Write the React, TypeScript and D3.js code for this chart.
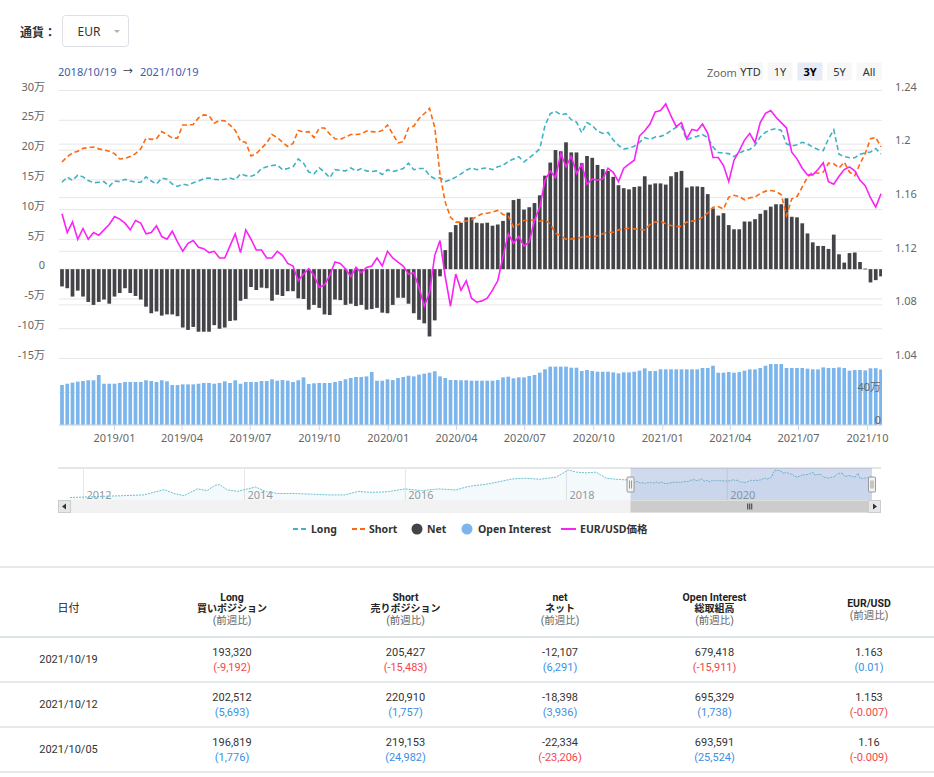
import * as d3 from "d3";

const FONT = "'Noto Sans', 'Noto Sans CJK JP', sans-serif";
const TABLE_FONT = "Roboto, 'Noto Sans CJK JP', sans-serif";

// weekly COT report dates (Tuesdays)
const FIRST_REPORT = new Date(2018, 9, 23);
const RANGE_START = new Date(2018, 9, 19);
const RANGE_END = new Date(2021, 9, 19);

// positions in 万 (10,000 contracts)
const longPos = [
  14.6, 15.45, 14.9, 15.8, 15.5, 14.9, 14.5, 14.6, 14.7, 13.9, 14.8, 14.7, 15.1, 14.8, 14.6, 14.6, 15.5, 14.8, 14.3, 15.3,
  15.1, 14.3, 13.9, 14.3, 14.1, 14.5, 14.8, 15.2, 15.3, 15.1, 15.0, 15.1, 15.3, 15.0, 16.0, 15.7, 15.6, 15.9, 16.9,
  17.2, 17.4, 17.5, 16.7, 16.9, 17.2, 18.5, 17.8, 16.3, 16.0, 17.0, 16.3, 15.35, 16.7, 16.6, 16.5, 17.0, 16.5, 16.9, 16.5,
  16.4, 16.5, 15.9, 16.7, 16.4, 16.6, 16.9, 17.8, 16.7, 16.9, 16.9, 15.7, 15.2, 15.35, 14.7, 15.0, 15.45, 16.0, 16.6,
  17.0, 16.7, 16.9, 17.0, 16.7, 17.2, 17.4, 18.1, 18.5, 18.9, 18.0, 18.7, 19.4, 20.2, 24.1, 26.1, 26.5, 25.9, 26.1, 25.1,
  24.7, 22.9, 24.6, 24.1, 23.2, 22.8, 22.95, 21.7, 20.8, 20.2, 20.3, 20.65, 21.3, 22.1, 21.8, 22.2, 22.3, 22.6, 23.3,
  23.8, 23.96, 21.7, 22.1, 22.3, 22.6, 22.1, 20.5, 19.6, 19.5, 19.4, 18.9, 19.5, 19.9, 20.1, 20.8, 22.2, 23.0, 23.4, 23.6,
  23.3, 21.05, 20.7, 20.9, 21.3, 21.05, 20.5, 20.1, 19.9, 21.9, 23.4, 19.3, 18.9, 18.7, 18.7, 19.3, 19.5, 19.68, 20.25, 19.33,
];

const shortPos = [
  18.0, 18.9, 19.5, 19.8, 20.3, 20.4, 20.5, 20.2, 20.0, 19.8, 19.4, 18.5, 18.6, 18.9, 19.4, 20.2, 22.0, 21.8, 21.9, 23.1,
  22.6, 22.0, 22.0, 24.2, 24.2, 24.3, 25.4, 25.9, 25.8, 24.5, 25.0, 24.9, 24.2, 23.3, 21.5, 21.3, 19.0, 19.4, 20.3,
  21.2, 22.6, 22.1, 21.3, 20.6, 21.1, 23.3, 23.0, 23.1, 22.1, 23.7, 23.7, 22.7, 21.9, 21.8, 22.2, 22.6, 22.6, 22.7, 23.2,
  23.1, 23.0, 23.3, 24.2, 22.7, 21.2, 21.4, 23.7, 24.0, 25.3, 26.1, 27.0, 23.8, 15.9, 11.25, 8.7, 7.9, 7.9, 8.1,
  8.3, 8.85, 9.3, 9.4, 9.57, 9.86, 9.18, 8.9, 7.05, 7.5, 8.18, 8.18, 8.29, 8.06, 8.29, 7.6, 6.04, 5.6, 5.04, 5.09,
  5.2, 5.37, 5.49, 5.37, 5.6, 5.94, 6.21, 6.21, 6.6, 6.77, 6.88, 6.77, 6.66, 6.6, 7.5, 7.9, 8.06, 7.62, 7.34,
  7.17, 7.22, 7.9, 8.06, 8.18, 8.73, 9.46, 10.4, 10.5, 10.1, 12.1, 12.4, 12.2, 11.65, 12.0, 12.1, 12.7, 13.1, 13.2, 13.05,
  12.5, 9.0, 11.8, 12.2, 13.8, 15.45, 16.3, 16.1, 16.3, 17.8, 17.7, 17.0, 17.97, 16.3, 15.7, 17.7, 19.42, 21.92, 22.09, 20.54,
];

const netPos = [
  -2.9, -3.2, -4.6, -3.6, -4.6, -5.5, -6.0, -5.5, -5.1, -5.8, -4.6, -4.0, -3.2, -4.0, -4.5, -5.1, -6.3, -7.4, -7.1, -7.8,
  -7.6, -7.6, -7.9, -9.8, -10.2, -9.7, -10.5, -10.5, -10.5, -9.4, -10.0, -9.8, -8.7, -8.6, -5.3, -5.0, -3.0, -3.5, -3.1,
  -3.2, -5.3, -4.3, -4.5, -3.7, -3.7, -4.9, -5.0, -6.8, -6.0, -6.5, -7.6, -7.7, -5.1, -5.2, -6.0, -5.8, -6.2, -6.0, -6.8,
  -6.7, -6.5, -7.3, -7.4, -6.0, -4.8, -4.8, -5.8, -7.4, -8.5, -9.1, -11.3, -8.6, -1.2, 3.2, 6.2, 7.4, 7.8, 8.7,
  8.7, 7.8, 7.7, 7.8, 7.3, 7.5, 8.1, 9.5, 11.6, 11.8, 10.0, 10.4, 11.1, 12.4, 15.7, 17.9, 20.0, 19.8, 21.3, 19.6,
  19.6, 17.8, 19.0, 18.7, 17.5, 16.8, 16.5, 15.5, 14.1, 13.6, 13.4, 13.8, 13.9, 15.6, 14.2, 14.4, 14.4, 14.2, 15.6,
  16.3, 16.5, 13.7, 13.9, 13.9, 13.8, 12.6, 10.2, 9.0, 9.4, 7.4, 6.7, 6.7, 8.0, 8.0, 8.4, 9.3, 9.9, 10.5, 10.9,
  10.9, 11.9, 8.8, 8.7, 7.7, 6.0, 4.5, 3.9, 3.9, 3.4, 5.8, 2.5, 1.1, 2.7, 2.8, 1.2, 0.09, -2.23, -1.84, -1.21,
];

const openInterest = [
  48.9, 50.5, 51.8, 53.0, 53.8, 54.7, 54.7, 61.2, 50.5, 50.5, 50.5, 51.4, 52.6, 52.6, 52.6, 52.6, 54.7, 53.8, 52.6, 54.7,
  53.4, 48.9, 48.9, 49.7, 49.7, 49.7, 50.5, 51.4, 51.4, 50.5, 51.4, 53.4, 51.4, 54.7, 50.5, 52.6, 52.6, 52.6, 53.8,
  53.8, 55.9, 54.2, 55.0, 54.2, 52.6, 54.7, 58.3, 50.2, 51.0, 51.4, 51.4, 51.4, 52.6, 53.8, 55.9, 57.5, 58.7, 58.7, 59.5,
  64.8, 54.2, 54.2, 55.9, 55.0, 57.5, 58.7, 60.3, 59.5, 61.6, 62.8, 64.0, 65.7, 59.5, 57.5, 55.0, 55.0, 54.7, 54.7,
  54.2, 54.2, 54.2, 54.2, 54.2, 55.0, 58.3, 59.1, 57.1, 58.3, 58.3, 59.9, 61.2, 64.0, 68.1, 71.4, 71.4, 71.4, 71.4, 70.1,
  70.1, 66.0, 67.3, 66.0, 65.2, 65.2, 65.2, 64.4, 63.2, 64.4, 64.4, 65.2, 66.5, 69.3, 66.0, 66.0, 68.1, 68.1, 68.1,
  68.1, 68.1, 68.1, 68.1, 68.1, 69.7, 69.7, 72.5, 64.0, 64.0, 64.8, 64.0, 64.8, 66.5, 68.1, 68.1, 69.7, 72.5, 74.6, 74.6,
  74.6, 69.7, 69.7, 69.7, 69.7, 68.9, 68.1, 68.1, 70.5, 69.7, 69.7, 70.5, 69.7, 66.5, 67.3, 67.3, 66.8, 69.36, 69.53, 67.94,
];

const eurUsd = [
  1.148, 1.134, 1.142, 1.129, 1.137, 1.129, 1.134, 1.132, 1.136, 1.14, 1.146, 1.144, 1.141, 1.136, 1.143, 1.141, 1.133, 1.134, 1.139, 1.131,
  1.129, 1.135, 1.127, 1.12, 1.126, 1.128, 1.123, 1.122, 1.119, 1.12, 1.115, 1.115, 1.124, 1.133, 1.119, 1.136, 1.129, 1.121, 1.121,
  1.115, 1.115, 1.12, 1.117, 1.111, 1.109, 1.098, 1.103, 1.107, 1.102, 1.093, 1.095, 1.102, 1.112, 1.111, 1.107, 1.101, 1.108, 1.104, 1.108,
  1.109, 1.115, 1.109, 1.12, 1.115, 1.112, 1.109, 1.103, 1.104, 1.093, 1.079, 1.089, 1.117, 1.128, 1.101, 1.079, 1.103, 1.091, 1.098,
  1.085, 1.082, 1.083, 1.085, 1.091, 1.098, 1.116, 1.133, 1.126, 1.131, 1.124, 1.127, 1.143, 1.153, 1.173, 1.18, 1.175, 1.193, 1.183, 1.191,
  1.178, 1.185, 1.17, 1.174, 1.173, 1.174, 1.182, 1.179, 1.172, 1.182, 1.185, 1.188, 1.206, 1.21, 1.215, 1.224, 1.225, 1.23, 1.221,
  1.213, 1.216, 1.204, 1.211, 1.21, 1.215, 1.208, 1.19, 1.19, 1.184, 1.172, 1.188, 1.195, 1.203, 1.208, 1.201, 1.216, 1.223, 1.225, 1.22,
  1.216, 1.212, 1.194, 1.189, 1.182, 1.177, 1.177, 1.181, 1.186, 1.172, 1.17, 1.176, 1.181, 1.183, 1.18, 1.173, 1.169, 1.16, 1.153, 1.163,
];

// navigator: long history before the selected range (万)
const navHistDates = [
  "2011-11-01", "2012-01-01", "2012-04-01", "2012-07-01", "2012-10-01", "2013-01-01", "2013-02-15", "2013-04-01",
  "2013-06-01", "2013-07-15", "2013-08-20", "2013-09-10", "2013-10-15", "2013-12-01", "2014-02-20", "2014-04-10",
  "2014-06-01", "2014-08-15", "2014-11-01", "2015-01-15", "2015-04-01", "2015-06-01", "2015-08-01", "2015-10-15",
  "2016-01-01", "2016-03-15", "2016-06-01", "2016-08-15", "2016-10-15", "2017-01-01", "2017-03-01", "2017-05-01",
  "2017-07-01", "2017-09-01", "2017-11-15", "2018-01-10", "2018-02-15", "2018-04-01", "2018-05-15", "2018-07-01",
  "2018-08-15", "2018-10-01",
];
const navHistLong = [
  1.0, 1.4, 2.1, 2.7, 3.4, 8.3, 4.7, 2.7, 9.0, 7.4, 12.3, 13.0, 8.0, 6.7, 10.7, 6.4, 4.7, 4.7, 4.1, 3.4, 3.4, 6.7, 5.7,
  6.4, 9.0, 7.4, 9.0, 8.0, 11.3, 13.3, 15.6, 18.2, 18.9, 17.9, 19.9, 26.5, 24.5, 23.9, 24.5, 18.9, 17.9, 17.3,
];

const leftTicks = [30, 25, 20, 15, 10, 5, 0, -5, -10, -15];
const rightTicks = [1.24, 1.2, 1.16, 1.12, 1.08, 1.04];
const oiTicks = [0, 40];
const monthTicks = [
  "2019/01", "2019/04", "2019/07", "2019/10", "2020/01", "2020/04",
  "2020/07", "2020/10", "2021/01", "2021/04", "2021/07", "2021/10",
];
const navYears = [2012, 2014, 2016, 2018, 2020];
const zoomButtons = ["YTD", "1Y", "3Y", "5Y", "All"];

// table
const tableDates = ["2021/10/19", "2021/10/12", "2021/10/05"];
const tableLong = [193320, 202512, 196819];
const tableLongChg = [-9192, 5693, 1776];
const tableShort = [205427, 220910, 219153];
const tableShortChg = [-15483, 1757, 24982];
const tableNet = [-12107, -18398, -22334];
const tableNetChg = [6291, 3936, -23206];
const tableOI = [679418, 695329, 693591];
const tableOIChg = [-15911, 1738, 25524];
const tableFx = [1.163, 1.153, 1.16];
const tableFxChg = [0.01, -0.007, -0.009];

const C_LONG = "#41b2c4";
const C_SHORT = "#fb6a12";
const C_NET = "#434348";
const C_OI = "#7cb5ec";
const C_FX = "#fa22f6";

const PLOT_L = 59;
const PLOT_R = 881;
const TOP = 90.5;
const MID = 358.5;
const OI_TOP = 359.6;
const OI_BOT = 425;

const NAV_TOP = 468;
const NAV_BOT = 500;

const fmt = d3.formatLocale({ decimal: ".", thousands: ",", grouping: [3], currency: ["", ""], minus: "-" }).format(",");

export default function App() {
  const dates = d3.range(longPos.length).map((i) => d3.timeDay.offset(FIRST_REPORT, 7 * i));

  const x = d3.scaleTime().domain([RANGE_START, RANGE_END]).range([PLOT_L, PLOT_R]);
  const yL = d3.scaleLinear().domain([-15, 30]).range([MID, TOP]);
  const yR = d3.scaleLinear().domain([1.04, 1.24]).range([MID, TOP]);
  const yOI = d3.scaleLinear().domain([0, 80]).range([OI_BOT, OI_TOP]);

  const lineL = d3
    .line<number>()
    .x((_, i) => x(dates[i]))
    .y((v) => yL(v));
  const lineR = d3
    .line<number>()
    .x((_, i) => x(dates[i]))
    .y((v) => yR(v));

  const barW = 3.7;

  // navigator
  const navPts = [
    ...navHistDates.map((d, i) => ({ date: d3.timeParse("%Y-%m-%d")(d) as Date, v: navHistLong[i] })),
    ...dates.map((d, i) => ({ date: d, v: longPos[i] })),
  ];
  const navX = d3.scaleTime().domain([new Date(2011, 10, 1), RANGE_END]).range([70, 872]);
  const navY = d3
    .scaleLinear()
    .domain(d3.extent(navPts, (p) => p.v) as [number, number])
    .range([497.5, 470]);
  const navLine = d3
    .line<{ date: Date; v: number }>()
    .x((p) => navX(p.date))
    .y((p) => navY(p.v));
  const navArea = d3
    .area<{ date: Date; v: number }>()
    .x((p) => navX(p.date))
    .y0(NAV_BOT)
    .y1((p) => navY(p.v));
  const maskL = navX(RANGE_START);
  const maskR = navX(RANGE_END);

  const monthDate = (s: string) => d3.timeParse("%Y/%m")(s) as Date;

  const colX = [68.5, 232, 405.5, 560, 714.5, 869];
  const headers = [
    { l1: "", l2: "日付", l3: "" },
    { l1: "Long", l2: "買いポジション", l3: "(前週比)" },
    { l1: "Short", l2: "売りポジション", l3: "(前週比)" },
    { l1: "net", l2: "ネット", l3: "(前週比)" },
    { l1: "Open Interest", l2: "総取組高", l3: "(前週比)" },
  ];
  const rowY = [637, 682, 727];
  const chgColor = (v: number) => (v < 0 ? "#f3474b" : "#3d8fe3");

  return (
    <svg
      width={934}
      height={777}
      style={{ position: "absolute", left: 0, top: 0, background: "#fff" }}
      fontFamily={FONT}
    >
      <defs>
        <clipPath id="plotClip">
          <rect x={PLOT_L} y={TOP - 2} width={PLOT_R - PLOT_L + 1} height={MID - TOP + 4} />
        </clipPath>
        <clipPath id="barClip">
          <rect x={PLOT_L} y={TOP - 2} width={PLOT_R - PLOT_L + 1} height={OI_BOT - TOP + 4} />
        </clipPath>
      </defs>

      {/* currency selector */}
      <text x={20} y={32} fontSize={12} fontWeight="bold" fill="#333" dominantBaseline="central">
        通貨：
      </text>
      <rect x={62.5} y={15.5} width={66} height={31} rx={3} fill="#fff" stroke="#dcdfe6" />
      <text x={89} y={31.5} fontSize={12} fill="#333" textAnchor="middle" dominantBaseline="central">
        EUR
      </text>
      <path d="M114,30 L120,30 L117,33 Z" fill="#b0b0b0" />

      {/* date range + zoom buttons */}
      <text x={58} y={71} fontSize={11} fill="#3c5da8" dominantBaseline="central">
        2018/10/19
      </text>
      <text x={123} y={71} fontSize={10} fill="#333" dominantBaseline="central">
        →
      </text>
      <text x={140} y={71} fontSize={11} fill="#3c5da8" dominantBaseline="central">
        2021/10/19
      </text>
      <text x={707} y={72} fontSize={11} fill="#666" dominantBaseline="central">
        Zoom
      </text>
      {zoomButtons.map((b, i) => {
        const bx = [738, 767.5, 797.5, 827, 856.5][i];
        const sel = b === "3Y";
        return (
          <g key={b}>
            <rect x={bx} y={62.5} width={25} height={18} fill={sel ? "#e6ebf5" : "#f7f7f7"} />
            <text
              x={bx + 12.5}
              y={71.5}
              fontSize={11}
              textAnchor="middle"
              dominantBaseline="central"
              fill={sel ? "#000" : "#333"}
              fontWeight={sel ? "bold" : "normal"}
            >
              {b}
            </text>
          </g>
        );
      })}

      {/* grid */}
      {leftTicks.map((t) => (
        <line key={"gl" + t} x1={PLOT_L} x2={PLOT_R + 1} y1={yL(t)} y2={yL(t)} stroke="#e6e6e6" />
      ))}
      {rightTicks.map((t) => (
        <line key={"gr" + t} x1={PLOT_L} x2={PLOT_R + 1} y1={yR(t)} y2={yR(t)} stroke="#e6e6e6" />
      ))}
      {oiTicks.map((t) => (
        <line key={"go" + t} x1={PLOT_L} x2={PLOT_R + 1} y1={yOI(t)} y2={yOI(t)} stroke="#e6e6e6" />
      ))}

      {/* axis labels */}
      {leftTicks.map((t) => (
        <text
          key={"ll" + t}
          x={45}
          y={yL(t) - 4.3}
          fontSize={11}
          fill="#666"
          textAnchor="end"
          dominantBaseline="central"
        >
          {t === 0 ? "0" : `${t}万`}
        </text>
      ))}
      {rightTicks.map((t) => (
        <text key={"rl" + t} x={895} y={yR(t) - 4.3} fontSize={11} fill="#666" dominantBaseline="central">
          {String(t)}
        </text>
      ))}

      {/* bars */}
      <g clipPath="url(#barClip)">
        {openInterest.map((v, i) => (
          <rect
            key={"oi" + i}
            x={x(dates[i]) - barW / 2}
            y={yOI(v)}
            width={barW}
            height={yOI(0) - yOI(v)}
            fill={C_OI}
          />
        ))}
        {netPos.map((v, i) => (
          <rect
            key={"net" + i}
            x={x(dates[i]) - barW / 2}
            y={Math.min(yL(v), yL(0))}
            width={barW}
            height={Math.max(0.8, Math.abs(yL(v) - yL(0)))}
            fill={C_NET}
          />
        ))}
      </g>
      {oiTicks.map((t) => (
        <text
          key={"ol" + t}
          x={881}
          y={yOI(t) - 5.5}
          fontSize={11}
          fill="#666"
          textAnchor="end"
          dominantBaseline="central"
        >
          {t === 0 ? "0" : `${t}万`}
        </text>
      ))}

      {/* lines */}
      <g clipPath="url(#plotClip)" fill="none">
        <path d={lineL(longPos) ?? undefined} stroke={C_LONG} strokeWidth={1.6} strokeDasharray="5,3" />
        <path d={lineL(shortPos) ?? undefined} stroke={C_SHORT} strokeWidth={1.6} strokeDasharray="5,3" />
        <path d={lineR(eurUsd) ?? undefined} stroke={C_FX} strokeWidth={1.6} />
      </g>

      {/* x axis */}
      <line x1={PLOT_L} x2={PLOT_R + 1} y1={OI_BOT} y2={OI_BOT} stroke="#ccd6eb" />
      {monthTicks.map((m) => {
        const tx = x(monthDate(m));
        return (
          <g key={m}>
            <line x1={tx} x2={tx} y1={OI_BOT} y2={OI_BOT + 5} stroke="#ccd6eb" />
            <text x={tx} y={437} fontSize={11} fill="#666" textAnchor="middle" dominantBaseline="central">
              {m}
            </text>
          </g>
        );
      })}

      {/* navigator */}
      <line x1={58} x2={881} y1={NAV_TOP} y2={NAV_TOP} stroke="#cccccc" />
      {navYears.map((yr) => {
        const nx = navX(new Date(yr, 0, 1));
        return (
          <g key={yr}>
            <line x1={nx} x2={nx} y1={NAV_TOP} y2={NAV_BOT} stroke="#e6e6e6" />
            <text x={nx + 3} y={494} fontSize={11} fill="#999" dominantBaseline="central">
              {yr}
            </text>
          </g>
        );
      })}
      <path d={navArea(navPts) ?? undefined} fill="rgba(65,178,196,0.06)" />
      <path d={navLine(navPts) ?? undefined} fill="none" stroke="#6cc0d2" strokeWidth={1} strokeDasharray="2,1" />
      <rect x={maskL} y={NAV_TOP} width={maskR - maskL} height={NAV_BOT - NAV_TOP} fill="rgba(102,133,194,0.3)" />
      {[maskL, maskR].map((hx, i) => (
        <g key={"h" + i}>
          <rect x={hx - 3.5} y={477} width={7} height={15} rx={1} fill="#f2f2f2" stroke="#999" />
          <line x1={hx - 1} x2={hx - 1} y1={480.5} y2={488.5} stroke="#999" />
          <line x1={hx + 1} x2={hx + 1} y1={480.5} y2={488.5} stroke="#999" />
        </g>
      ))}

      {/* scrollbar */}
      <rect x={58} y={500} width={823} height={13} fill="#f2f2f2" />
      <rect x={maskL} y={500.5} width={869 - maskL} height={12} fill="#cccccc" />
      {[-2, 0, 2].map((d) => (
        <line key={"g" + d} x1={(maskL + 869) / 2 + d} x2={(maskL + 869) / 2 + d} y1={503.5} y2={509.5} stroke="#333" />
      ))}
      <rect x={58.5} y={500.5} width={12} height={12} fill="#e6e6e6" stroke="#cccccc" />
      <path d="M66,503.5 L62,506.5 L66,509.5 Z" fill="#333" />
      <rect x={868.5} y={500.5} width={12} height={12} fill="#e6e6e6" stroke="#cccccc" />
      <path d="M873,503.5 L877,506.5 L873,509.5 Z" fill="#333" />

      {/* legend */}
      <g fontSize={10.5} fontWeight="bold" fill="#333">
        <line x1={293} x2={306} y1={529} y2={529} stroke={C_LONG} strokeWidth={2} strokeDasharray="5,3" />
        <text x={311} y={529} dominantBaseline="central">Long</text>
        <line x1={352} x2={365} y1={529} y2={529} stroke={C_SHORT} strokeWidth={2} strokeDasharray="5,3" />
        <text x={369} y={529} dominantBaseline="central">Short</text>
        <circle cx={417} cy={529} r={5.5} fill={C_NET} />
        <text x={427} y={529} dominantBaseline="central">Net</text>
        <circle cx={467} cy={529} r={5.5} fill={C_OI} />
        <text x={478} y={529} dominantBaseline="central">Open Interest</text>
        <line x1={561} x2={576} y1={529} y2={529} stroke={C_FX} strokeWidth={2} />
        <text x={580} y={529} dominantBaseline="central">EUR/USD価格</text>
      </g>

      {/* table */}
      <g fontFamily={TABLE_FONT}>
        <line x1={0} x2={934} y1={567} y2={567} stroke="#e4e9eb" strokeWidth={2} />
        <line x1={0} x2={934} y1={637} y2={637} stroke="#dbe3e6" strokeWidth={2} />
        {headers.map((h, i) => (
          <g key={"hd" + i} textAnchor="middle">
            <text x={colX[i]} y={597.5} fontSize={10.5} fontWeight="bold" fill="#222" dominantBaseline="central">
              {h.l1}
            </text>
            <text
              x={colX[i]}
              y={608.5}
              fontSize={i === 0 ? 11 : 10}
              fontWeight={i === 0 ? "normal" : "bold"}
              fill="#222"
              dominantBaseline="central"
            >
              {h.l2}
            </text>
            <text x={colX[i]} y={620.5} fontSize={10.5} fill="#666" dominantBaseline="central">
              {h.l3}
            </text>
          </g>
        ))}
        <text x={colX[5]} y={603.5} fontSize={10.5} fontWeight="bold" fill="#222" textAnchor="middle" dominantBaseline="central">
          EUR/USD
        </text>
        <text x={colX[5]} y={615.5} fontSize={10.5} fill="#666" textAnchor="middle" dominantBaseline="central">
          (前週比)
        </text>

        {tableDates.map((d, r) => {
          const y0 = rowY[r];
          const vals = [tableLong[r], tableShort[r], tableNet[r], tableOI[r]];
          const chgs = [tableLongChg[r], tableShortChg[r], tableNetChg[r], tableOIChg[r]];
          return (
            <g key={d} fontSize={11} textAnchor="middle">
              <text x={colX[0]} y={y0 + 22.5} fill="#333" dominantBaseline="central">
                {d}
              </text>
              {vals.map((v, c) => (
                <g key={c}>
                  <text x={colX[c + 1]} y={y0 + 15.5} fill="#333" dominantBaseline="central">
                    {fmt(v)}
                  </text>
                  <text x={colX[c + 1]} y={y0 + 30} fill={chgColor(chgs[c])} dominantBaseline="central">
                    ({fmt(chgs[c])})
                  </text>
                </g>
              ))}
              <text x={colX[5]} y={y0 + 15.5} fill="#333" dominantBaseline="central">
                {String(tableFx[r])}
              </text>
              <text x={colX[5]} y={y0 + 30} fill={chgColor(tableFxChg[r])} dominantBaseline="central">
                ({String(tableFxChg[r])})
              </text>
              <line x1={0} x2={934} y1={y0 + 45} y2={y0 + 45} stroke="#dbe3e6" strokeWidth={1.5} />
            </g>
          );
        })}
      </g>
    </svg>
  );
}
